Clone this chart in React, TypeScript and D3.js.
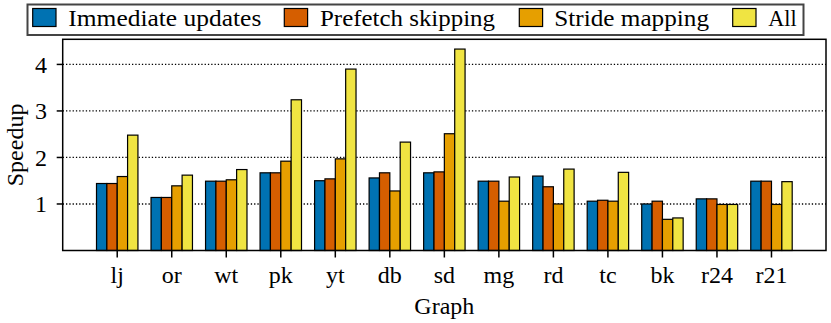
import React from "react";
import * as d3 from "d3";

const graphs = ["lj", "or", "wt", "pk", "yt", "db", "sd", "mg", "rd", "tc", "bk", "r24", "r21"];
const seriesNames = ["Immediate updates", "Prefetch skipping", "Stride mapping", "All"];
const seriesColors = ["#0072B2", "#D55E00", "#E69F00", "#F0E442"];

const immediate = [1.44, 1.14, 1.49, 1.67, 1.50, 1.56, 1.67, 1.49, 1.60, 1.06, 1.00, 1.11, 1.49];
const prefetch = [1.44, 1.14, 1.49, 1.67, 1.54, 1.67, 1.69, 1.49, 1.37, 1.08, 1.06, 1.11, 1.49];
const stride = [1.59, 1.39, 1.52, 1.92, 1.97, 1.28, 2.51, 1.06, 1.00, 1.06, 0.67, 0.99, 0.99];
const all = [2.48, 1.62, 1.74, 3.24, 3.90, 2.33, 4.33, 1.58, 1.75, 1.68, 0.70, 0.99, 1.48];
const yTicks = [1, 2, 3, 4];

const series = [immediate, prefetch, stride, all];

const W = 831;
const H = 323;
const left = 62.7;
const right = 826;
const top = 39.3;
const bottom = 250.5;
const font = "'Liberation Serif', 'Times New Roman', Times, serif";
const fs = 24;

// legend layout (swatch x, label x, label width)
const legendItems = [
  { sx: 32.7, tx: 68.3, tw: 193 },
  { sx: 284.3, tx: 320, tw: 175 },
  { sx: 519.3, tx: 554.3, tw: 154.7 },
  { sx: 732.7, tx: 768.3, tw: 28.4 },
];

export default function App() {
  const x = d3.scaleLinear().domain([-1, graphs.length]).range([left, right]);
  const y = d3.scaleLinear().domain([0, 4.54]).range([bottom, top]);
  const step = x(1) - x(0);
  const bw = step * 0.19;
  const sub = d3
    .scaleBand<number>()
    .domain(d3.range(series.length))
    .range([-2 * bw, 2 * bw])
    .padding(0);

  return (
    <svg
      width={W}
      height={H}
      style={{ position: "absolute", left: 0, top: 0, background: "#fff", fontFamily: font }}
    >
      {/* grid */}
      {yTicks.map((t) => (
        <line
          key={"g" + t}
          x1={left}
          x2={right}
          y1={y(t)}
          y2={y(t)}
          stroke="#000"
          strokeWidth={1.3}
          strokeDasharray="1.3,2"
        />
      ))}
      {/* bars */}
      {series.map((vals, si) =>
        vals.map((v, i) => (
          <rect
            key={si + "-" + i}
            x={x(i) + (sub(si) as number)}
            y={y(v)}
            width={sub.bandwidth()}
            height={y(0) - y(v)}
            fill={seriesColors[si]}
            stroke="#000"
            strokeWidth={1.2}
          />
        ))
      )}
      {/* frame */}
      <rect
        x={left}
        y={top}
        width={right - left}
        height={bottom - top}
        fill="none"
        stroke="#000"
        strokeWidth={1.5}
      />
      {/* y ticks */}
      {yTicks.map((t) => (
        <g key={"yt" + t}>
          <line x1={left - 6} x2={left} y1={y(t)} y2={y(t)} stroke="#000" strokeWidth={1.5} />
          <text x={47} y={y(t) + 8.5} fontSize={fs} textAnchor="end">
            {t}
          </text>
        </g>
      ))}
      {/* x ticks */}
      {graphs.map((g, i) => (
        <g key={"xt" + g}>
          <line x1={x(i)} x2={x(i)} y1={bottom} y2={bottom + 7} stroke="#000" strokeWidth={1.5} />
          <text x={x(i)} y={283} fontSize={fs} textAnchor="middle">
            {g}
          </text>
        </g>
      ))}
      <text x={(left + right) / 2} y={313.5} fontSize={fs} textAnchor="middle">
        Graph
      </text>
      <text
        transform={`translate(22.5,${(top + bottom) / 2}) rotate(-90)`}
        fontSize={fs}
        textAnchor="middle"
      >
        Speedup
      </text>
      {/* legend */}
      <rect x={27.5} y={4.5} width={776} height={30.5} fill="#fff" stroke="#444" strokeWidth={2} />
      {legendItems.map((it, i) => (
        <g key={"lg" + i}>
          <rect
            x={it.sx}
            y={8.5}
            width={23.3}
            height={18}
            fill={seriesColors[i]}
            stroke="#000"
            strokeWidth={1.2}
          />
          <text
            x={it.tx}
            y={26}
            fontSize={fs}
            textLength={it.tw}
            lengthAdjust="spacingAndGlyphs"
          >
            {seriesNames[i]}
          </text>
        </g>
      ))}
    </svg>
  );
}
